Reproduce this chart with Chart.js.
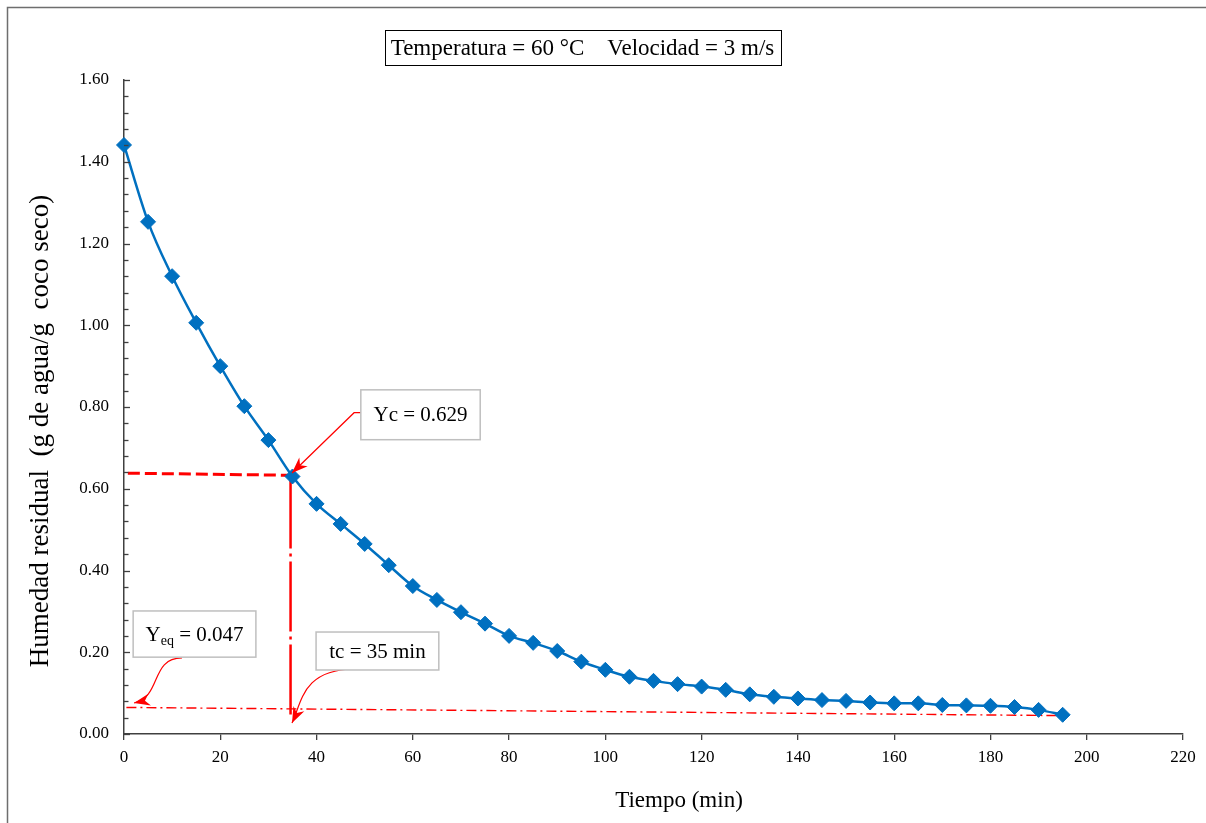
<!DOCTYPE html>
<html>
<head>
<meta charset="utf-8">
<script src="https://cdn.jsdelivr.net/npm/chart.js@4.4.1/dist/chart.umd.min.js"></script>
<style>
	body{margin:0;background:#fff;}
	#wrap{width:1206px;height:823px;}
</style>
</head>
<body>
<div id="wrap"><canvas id="SecadoChart" width="1206" height="823"></canvas></div>
<script>
// tiempo de secado (min) y humedad residual (g agua / g coco seco)
var tiempo = [0,5,10,15,20,25,30,35,40,45,50,55,60,65,70,75,80,85,90,95,
	100,105,110,115,120,125,130,135,140,145,150,155,160,165,170,175,180,185,190,195];
var humedad = [1.441,1.253,1.120,1.006,0.900,0.802,0.719,0.630,0.563,0.514,0.465,0.413,0.362,0.328,0.298,0.270,0.240,0.223,0.203,0.177,
	0.157,0.140,0.130,0.122,0.116,0.108,0.097,0.091,0.087,0.083,0.081,0.077,0.075,0.075,0.071,0.070,0.069,0.066,0.059,0.047];

// lineas de referencia
var ycLineX = [0.8, 34.6],  ycLineY = [0.638, 0.633];
var tcLineX = [34.6, 34.6], tcLineY = [0.625, 0.040];
var yeqLineX = [0.5, 195],  yeqLineY = [0.065, 0.045];

// ejes
var xTickValues = [0,20,40,60,80,100,120,140,160,180,200,220];
var yTickValues = [0,0.2,0.4,0.6,0.8,1.0,1.2,1.4,1.6];
var yMinorStep = 0.04;

var fuente = "'Liberation Serif', 'Times New Roman', serif";

// cajas de texto y flechas (en unidades de los ejes)
var notas = [
	{texto:'Yc = 0.629', caja:[49.2,0.842,74.0,0.720]},
	{texto:'Y', sub:'eq', resto:' = 0.047', caja:[1.9,0.301,27.4,0.188]},
	{texto:'tc = 35 min', caja:[39.9,0.2495,65.4,0.1566]}
];
var flechas = [
	{recta:[[49.2,0.786],[47.8,0.786],[34.9,0.6385]]},
	{curva:[[12.05,0.186],[5.4,0.186],[7.89,0.0905],[2.08,0.0758]]},
	{curva:[[47.78,0.159],[36.98,0.1566],[36.98,0.0783],[34.9,0.0269]]}
];

function pts(xs, ys){
	return xs.map(function(x,i){return {x:x, y:ys[i]};});
}

function punta(ctx, x, y, ang, len, w){
	ctx.save();
	ctx.translate(x, y);
	ctx.rotate(ang);
	ctx.beginPath();
	ctx.moveTo(0,0);
	ctx.lineTo(-len, -w);
	ctx.lineTo(-len*0.7, 0);
	ctx.lineTo(-len, w);
	ctx.closePath();
	ctx.fill();
	ctx.restore();
}

//marco, titulo, ticks internos y anotaciones
var extras = {
	id:'extras',
	beforeDraw: function(chart){
		var ctx = chart.ctx;
		ctx.save();
		ctx.fillStyle = '#fff';
		ctx.fillRect(0,0,chart.width,chart.height);
		ctx.strokeStyle = '#6e6e6e';
		ctx.lineWidth = 1.5;
		ctx.strokeRect(7.5, 7.5, chart.width+20, chart.height+20);
		ctx.restore();
	},
	afterDatasetsDraw: function(chart){
		var ctx = chart.ctx, xs = chart.scales.x, ys = chart.scales.y;
		function px(v){return xs.getPixelForValue(v);}
		function py(v){return ys.getPixelForValue(v);}
		ctx.save();
		ctx.strokeStyle = '#f00';
		ctx.fillStyle = '#f00';
		ctx.lineWidth = 1.2;
		flechas.forEach(function(f){
			var p, a;
			ctx.beginPath();
			if(f.recta){
				p = f.recta.map(function(q){return [px(q[0]), py(q[1])];});
				ctx.moveTo(p[0][0], p[0][1]);
				for(var i=1;i<p.length;i++){ctx.lineTo(p[i][0], p[i][1]);}
			}else{
				p = f.curva.map(function(q){return [px(q[0]), py(q[1])];});
				ctx.moveTo(p[0][0], p[0][1]);
				ctx.bezierCurveTo(p[1][0],p[1][1],p[2][0],p[2][1],p[3][0],p[3][1]);
			}
			ctx.stroke();
			var n = p.length;
			a = Math.atan2(p[n-1][1]-p[n-2][1], p[n-1][0]-p[n-2][0]);
			punta(ctx, p[n-1][0], p[n-1][1], a, 16, 6);
		});
		notas.forEach(function(nt){
			var x0 = px(nt.caja[0]), y0 = py(nt.caja[1]), x1 = px(nt.caja[2]), y1 = py(nt.caja[3]);
			ctx.fillStyle = '#fff';
			ctx.fillRect(x0, y0, x1-x0, y1-y0);
			ctx.strokeStyle = '#bfbfbf';
			ctx.lineWidth = 1.5;
			ctx.strokeRect(x0, y0, x1-x0, y1-y0);
			ctx.fillStyle = '#000';
			ctx.textBaseline = 'middle';
			ctx.textAlign = 'left';
			var cx = (x0+x1)/2, cy = (y0+y1)/2 + 1;
			ctx.font = '21px ' + fuente;
			if(nt.sub){
				var w1 = ctx.measureText(nt.texto).width, w3 = ctx.measureText(nt.resto).width;
				ctx.font = '14px ' + fuente;
				var w2 = ctx.measureText(nt.sub).width;
				var sx = cx - (w1+w2+w3)/2;
				ctx.font = '21px ' + fuente;
				ctx.fillText(nt.texto, sx, cy);
				ctx.font = '14px ' + fuente;
				ctx.fillText(nt.sub, sx+w1, cy+6);
				ctx.font = '21px ' + fuente;
				ctx.fillText(nt.resto, sx+w1+w2, cy);
			}else{
				ctx.textAlign = 'center';
				ctx.fillText(nt.texto, cx, cy);
			}
		});
		ctx.restore();
	},
	afterDraw: function(chart){
		var ctx = chart.ctx, ys = chart.scales.y, area = chart.chartArea;
		ctx.save();
		// ticks del eje y hacia adentro
		ctx.strokeStyle = '#404040';
		ctx.lineWidth = 1.3;
		var nMinor = Math.round((yTickValues[yTickValues.length-1]-yTickValues[0])/yMinorStep);
		for(var k=0;k<=nMinor;k++){
			var v = yTickValues[0] + k*yMinorStep;
			var y = Math.round(ys.getPixelForValue(v)) + 0.5;
			var len = (k % 5 === 0) ? 6 : 4.5;
			ctx.beginPath();
			ctx.moveTo(area.left, y);
			ctx.lineTo(area.left+len, y);
			ctx.stroke();
		}
		// titulo en recuadro
		ctx.font = '23px ' + fuente;
		ctx.fillStyle = '#000';
		ctx.textAlign = 'center';
		ctx.textBaseline = 'middle';
		var t = 'Temperatura = 60 \u00B0C    Velocidad = 3 m/s';
		var w = ctx.measureText(t).width;
		var cx = 582.5, cy = 47.5;
		ctx.strokeStyle = '#000';
		ctx.lineWidth = 1;
		ctx.strokeRect(Math.round(cx - w/2 - 6)+0.5, 30.5, Math.round(w + 12), 35);
		ctx.fillText(t, cx, cy+1);
		// titulos de ejes
		ctx.font = '23px ' + fuente;
		ctx.fillText('Tiempo (min)', 679, 801);
		ctx.translate(41, 431);
		ctx.rotate(-Math.PI/2);
		ctx.font = '27px ' + fuente;
		ctx.fillText('Humedad residual  (g de agua/g  coco seco)', 0, 0);
		ctx.restore();
	}
};

var chart = new Chart('SecadoChart', {
	type: 'line',
	data: {
		datasets: [{
			data: pts(tiempo, humedad),
			borderColor: '#0070C0',
			backgroundColor: '#0070C0',
			borderWidth: 2.5,
			pointStyle: 'rectRot',
			pointRadius: 7.5,
			pointBorderWidth: 1,
			cubicInterpolationMode: 'monotone',
			clip: false,
			order: 0
		},{
			data: pts(ycLineX, ycLineY),
			borderColor: '#ff0000',
			borderWidth: 3,
			borderDash: [12,5],
			pointRadius: 0,
			order: 1
		},{
			data: pts(tcLineX, tcLineY),
			borderColor: '#ff0000',
			borderWidth: 2.5,
			borderDash: [70,5,3,5],
			pointRadius: 0,
			order: 2
		},{
			data: pts(yeqLineX, yeqLineY),
			borderColor: '#ff0000',
			borderWidth: 1.4,
			borderDash: [10,4,2,4],
			pointRadius: 0,
			order: 3
		}]
	},
	options: {
		responsive: false,
		animation: false,
		devicePixelRatio: 1,
		layout: {padding: {top: 80, right: 23, left: 0, bottom: 0}},
		plugins: {legend: {display: false}, tooltip: {enabled: false}, title: {display: false}},
		elements: {line: {tension: 0}},
		scales: {
			x: {
				type: 'linear',
				min: xTickValues[0],
				max: xTickValues[xTickValues.length-1],
				afterBuildTicks: function(s){s.ticks = xTickValues.map(function(v){return {value:v};});},
				afterFit: function(s){s.height = 89;},
				grid: {drawOnChartArea: false, drawTicks: true, tickLength: 6, color: '#404040', lineWidth: 1.3},
				border: {display: true, color: '#404040', width: 1.5},
				ticks: {padding: 7, color: '#000', font: {family: fuente, size: 17}, maxRotation: 0}
			},
			y: {
				type: 'linear',
				min: yTickValues[0],
				max: yTickValues[yTickValues.length-1],
				afterBuildTicks: function(s){s.ticks = yTickValues.map(function(v){return {value:v};});},
				afterFit: function(s){s.width = 124;},
				grid: {display: false, drawTicks: false},
				border: {display: true, color: '#404040', width: 1.5},
				ticks: {padding: 15, color: '#000', font: {family: fuente, size: 17},
					callback: function(v){return Number(v).toFixed(2);}}
			}
		}
	},
	plugins: [extras]
});
</script>
</body>
</html>
